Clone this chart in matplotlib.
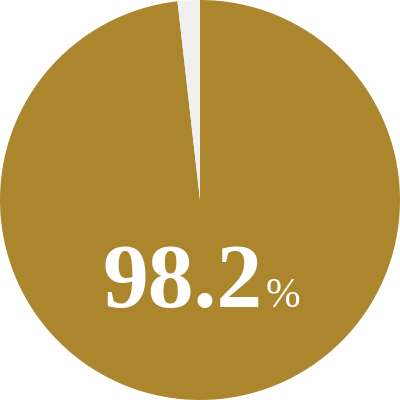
import matplotlib
matplotlib.use("Agg")
from matplotlib import pyplot as plt

# share of the pie
labels = ["yes", "no"]
values = [98.2, 1.8]
colors = ["#AB862C", "#F0F0F0"]
main_text = "98.2"
unit_text = "%"

fig = plt.figure(figsize=(4, 4), dpi=100)
ax = fig.add_axes([0, 0, 1, 1])
ax.pie(values, colors=colors, startangle=90, counterclock=False,
       wedgeprops={"linewidth": 0})
ax.set_xlim(-1, 1)
ax.set_ylim(-1, 1)
ax.set_aspect("equal")
ax.axis("off")

# big number, unit drawn smaller next to it
fig.text(263 / 400, 93 / 400, main_text, ha="right", va="baseline",
         fontsize=66, fontweight="bold", color="white",
         family="Liberation Serif")
fig.text(266 / 400, 93 / 400, unit_text, ha="left", va="baseline",
         fontsize=30, color="white", family="Liberation Serif")

fig.savefig("out.png", dpi=100)
